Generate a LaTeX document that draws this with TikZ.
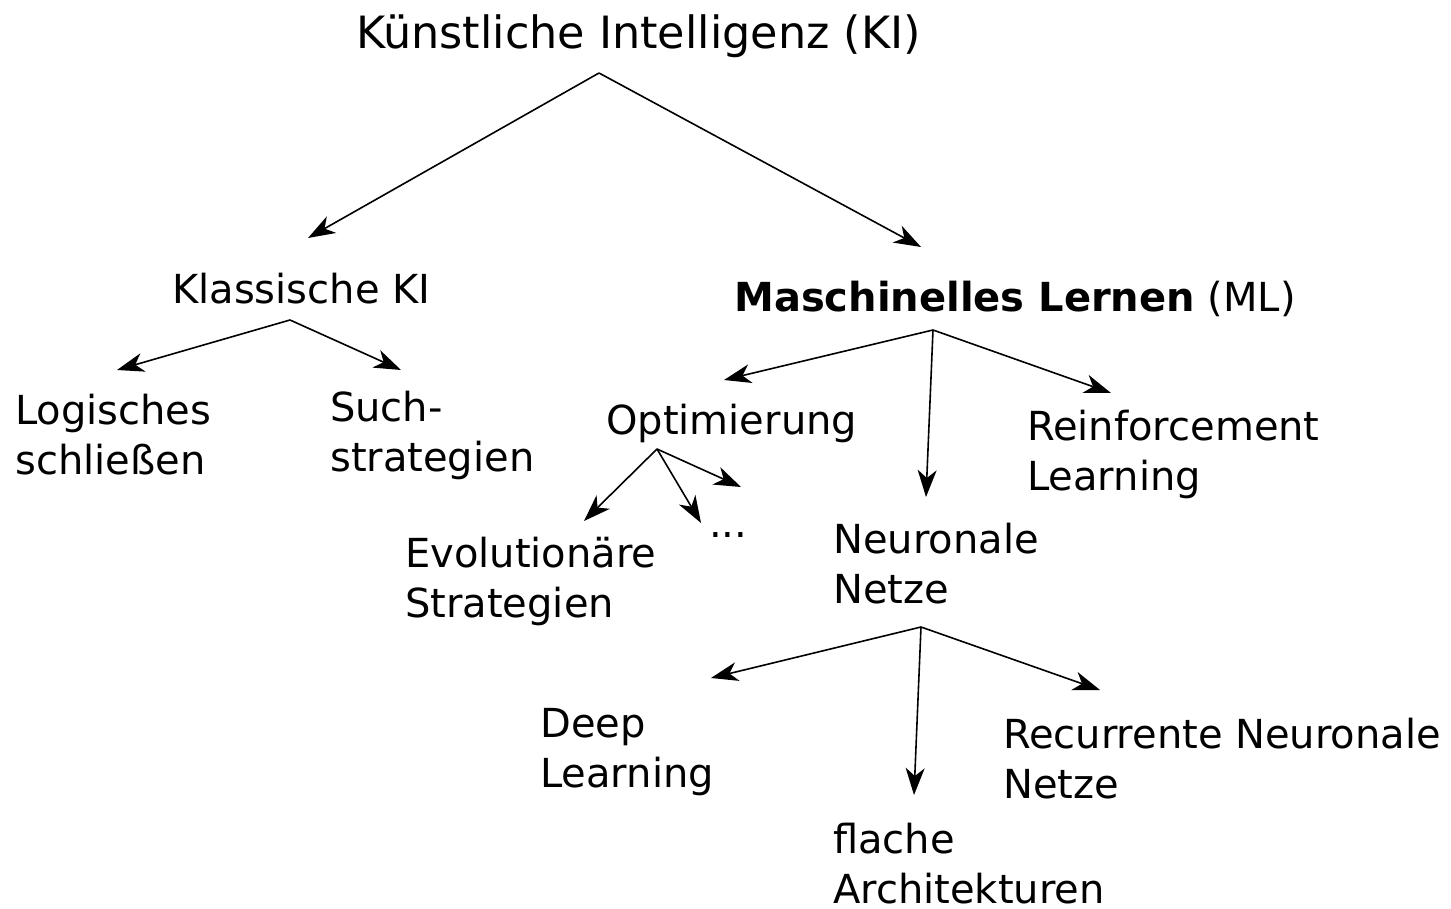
\documentclass[tikz,border=0pt]{standalone}
\usepackage{fontspec}
\setmainfont{DejaVu Sans}
\usetikzlibrary{arrows.meta}
\begin{document}
\begin{tikzpicture}[x=1pt,y=-1pt,
  lbl/.style={anchor=base west,inner sep=0pt,font=\fontsize{40}{50}\selectfont},
  conn/.style={line width=1.6pt,-{Stealth[length=27pt,width=19pt,inset=8pt]}}]
\useasboundingbox (0,0) rectangle (1451,909);
% labels
\node[lbl,font=\fontsize{44.5}{52}\selectfont] (ki) at (356,49) {Künstliche Intelligenz (KI)};
\node[lbl] (klass) at (172,304) {Klassische KI};
\node[lbl] (ml) at (734,312) {\textbf{Maschinelles Lernen} (ML)};
\node[lbl] (log) at (15,424) {\vtop{\hbox{Logisches}\hbox{schließen}}};
\node[lbl] (such) at (330,421) {\vtop{\hbox{Such-}\hbox{strategien}}};
\node[lbl] (opt) at (606,434) {Optimierung};
\node[lbl] (rl) at (1027,440) {\vtop{\hbox{Reinforcement}\hbox{Learning}}};
\node[lbl] (evo) at (405,567) {\vtop{\hbox{Evolutionäre}\hbox{Strategien}}};
\node[lbl] (dots) at (709,537) {...};
\node[lbl] (nn) at (833,553) {\vtop{\hbox{Neuronale}\hbox{Netze}}};
\node[lbl] (deep) at (540,737) {\vtop{\hbox{Deep}\hbox{Learning}}};
\node[lbl] (rnn) at (1003,748) {\vtop{\hbox{Recurrente Neuronale}\hbox{Netze}}};
\node[lbl] (flach) at (833,853) {\vtop{\hbox{flache}\hbox{Architekturen}}};
% connector end points
\coordinate (ki-s) at (599,73);
\coordinate (klass-n) at (308,238);
\coordinate (ml-n) at (921,247);
\coordinate (klass-s) at (290,320);
\coordinate (log-n) at (117,370);
\coordinate (such-n) at (401,370);
\coordinate (ml-s) at (933,330);
\coordinate (opt-n) at (724,380);
\coordinate (nn-n) at (926,497);
\coordinate (rl-n) at (1111,393);
\coordinate (opt-s) at (657,449);
\coordinate (evo-n) at (584,521);
\coordinate (dots-n) at (701,523);
\coordinate (more-n) at (741,487);
\coordinate (nn-s) at (921,627);
\coordinate (deep-n) at (711,678);
\coordinate (flach-n) at (914,795);
\coordinate (rnn-n) at (1100,690);
% connectors
\draw[conn] (ki-s) -- (klass-n);
\draw[conn] (ki-s) -- (ml-n);
\draw[conn] (klass-s) -- (log-n);
\draw[conn] (klass-s) -- (such-n);
\draw[conn] (ml-s) -- (opt-n);
\draw[conn] (ml-s) -- (nn-n);
\draw[conn] (ml-s) -- (rl-n);
\draw[conn] (opt-s) -- (evo-n);
\draw[conn] (opt-s) -- (dots-n);
\draw[conn] (opt-s) -- (more-n);
\draw[conn] (nn-s) -- (deep-n);
\draw[conn] (nn-s) -- (flach-n);
\draw[conn] (nn-s) -- (rnn-n);
\end{tikzpicture}
\end{document}
